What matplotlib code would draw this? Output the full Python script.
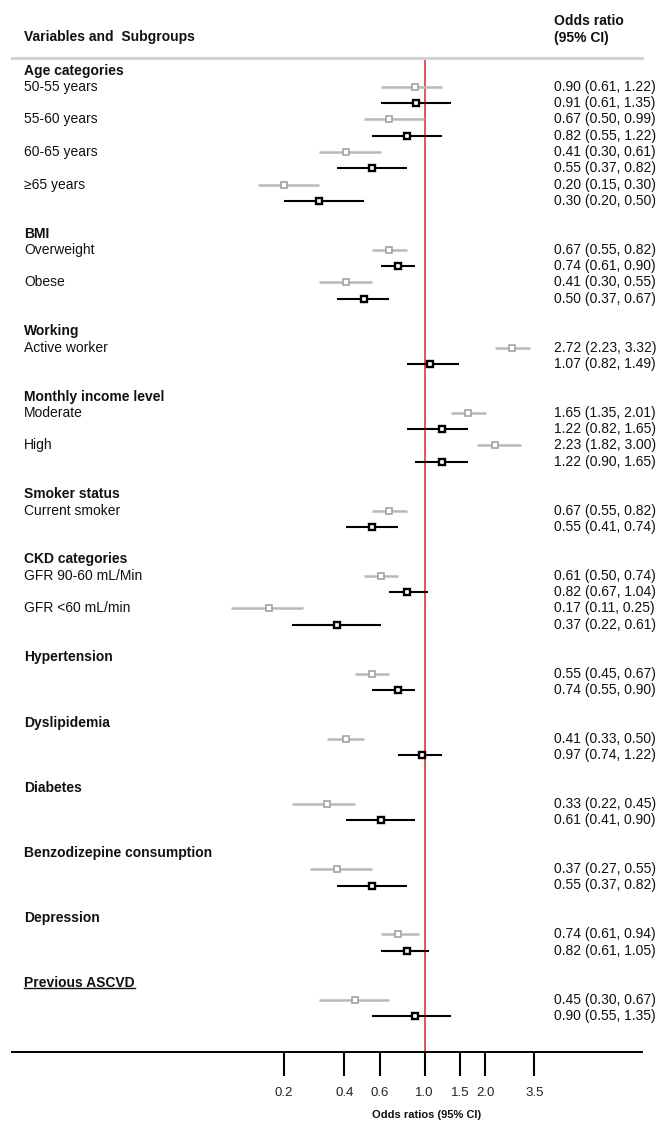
import matplotlib
matplotlib.use("Agg")
import matplotlib.pyplot as plt
from matplotlib import transforms
from matplotlib.lines import Line2D
import numpy as np

plt.rcParams['font.family'] = ['Liberation Sans', 'DejaVu Sans']

# ---- data -------------------------------------------------------------
groups = ["Age categories", "BMI", "Working", "Monthly income level",
          "Smoker status", "CKD categories", "Hypertension", "Dyslipidemia",
          "Diabetes", "Benzodizepine consumption", "Depression", "Previous ASCVD"]
subgroups = [["50-55 years", "55-60 years", "60-65 years", "\u226565 years"],
             ["Overweight", "Obese"],
             ["Active worker"],
             ["Moderate", "High"],
             ["Current smoker"],
             ["GFR 90-60 mL/Min", "GFR <60 mL/min"],
             [""], [""], [""], [""], [""], [""]]

# crude estimates (grey) and adjusted estimates (black)
crude_or = [0.90, 0.67, 0.41, 0.20, 0.67, 0.41, 2.72, 1.65, 2.23, 0.67,
            0.61, 0.17, 0.55, 0.41, 0.33, 0.37, 0.74, 0.45]
crude_lo = [0.61, 0.50, 0.30, 0.15, 0.55, 0.30, 2.23, 1.35, 1.82, 0.55,
            0.50, 0.11, 0.45, 0.33, 0.22, 0.27, 0.61, 0.30]
crude_hi = [1.22, 0.99, 0.61, 0.30, 0.82, 0.55, 3.32, 2.01, 3.00, 0.82,
            0.74, 0.25, 0.67, 0.50, 0.45, 0.55, 0.94, 0.67]
adj_or = [0.91, 0.82, 0.55, 0.30, 0.74, 0.50, 1.07, 1.22, 1.22, 0.55,
          0.82, 0.37, 0.74, 0.97, 0.61, 0.55, 0.82, 0.90]
adj_lo = [0.61, 0.55, 0.37, 0.20, 0.61, 0.37, 0.82, 0.82, 0.90, 0.41,
          0.67, 0.22, 0.55, 0.74, 0.41, 0.37, 0.61, 0.55]
adj_hi = [1.35, 1.22, 0.82, 0.50, 0.90, 0.67, 1.49, 1.65, 1.65, 0.74,
          1.04, 0.61, 0.90, 1.22, 0.90, 0.82, 1.05, 1.35]

tick_values = [0.2, 0.4, 0.6, 1.0, 1.5, 2.0, 3.5]
tick_labels = ["0.2", "0.4", "0.6", "1.0", "1.5", "2.0", "3.5"]

# ---- figure -------------------------------------------------------------
W, H = 659, 1122
fig = plt.figure(figsize=(W / 100, H / 100), dpi=100)

def fx(px):
    return px / W

def fy(py):
    return 1 - py / H

ax_l, ax_r, ax_t, ax_b = 12, 642, 58, 1052
ax = fig.add_axes([fx(ax_l), fy(ax_b), (ax_r - ax_l) / W, (ax_b - ax_t) / H])
ax.set_xscale('log')
k = 87.6          # pixels per natural-log unit
x_one = 424.5     # pixel column of OR = 1
ax.set_xlim(np.exp((ax_l - x_one) / k), np.exp((ax_r - x_one) / k))
row_h = 16.3
y0 = 70.5
ax.set_ylim((ax_b - y0) / row_h, (ax_t - y0) / row_h)

for s in ['left', 'right']:
    ax.spines[s].set_visible(False)
ax.spines['top'].set_color('#d2d2d2')
ax.spines['top'].set_linewidth(2.2)
ax.spines['bottom'].set_color('black')
ax.spines['bottom'].set_linewidth(1.4)
ax.set_yticks([])
ax.set_xticks(tick_values)
ax.set_xticklabels(tick_labels)
ax.xaxis.set_minor_locator(matplotlib.ticker.NullLocator())
ax.tick_params(axis='x', direction='out', length=17, width=1.5,
               pad=8, labelsize=9.5, color='black', labelcolor='#222222')

ax.axvline(1.0, color='#dd4a44', lw=1.3, zorder=1)

label_tr = transforms.blended_transform_factory(fig.transFigure, ax.transData)
text_kw = dict(fontsize=10, va='center', ha='left', color='#111111',
               transform=label_tr)

gray_line = '#b9b9b9'
gray_edge = '#a3a3a3'

u = 0
i = 0
heading_texts = {}
for g, subs in zip(groups, subgroups):
    t = ax.text(fx(24), u, g, fontweight='bold', **text_kw)
    heading_texts[g] = t
    for s in subs:
        yc, ya = u + 1, u + 2
        if s:
            ax.text(fx(24), yc, s, **text_kw)
        ax.plot([crude_lo[i], crude_hi[i]], [yc, yc], color=gray_line,
                lw=1.8, solid_capstyle='butt', zorder=2)
        ax.plot([crude_or[i]], [yc], marker='s', ms=4.2, mew=1.2,
                mfc='white', mec=gray_edge, zorder=3)
        ax.plot([adj_lo[i], adj_hi[i]], [ya, ya], color='black',
                lw=1.5, solid_capstyle='butt', zorder=2)
        ax.plot([adj_or[i]], [ya], marker='s', ms=5.0, mew=1.7,
                mfc='white', mec='black', zorder=3)
        ax.text(fx(554), yc,
                f"{crude_or[i]:.2f} ({crude_lo[i]:.2f}, {crude_hi[i]:.2f})",
                **text_kw)
        ax.text(fx(554), ya,
                f"{adj_or[i]:.2f} ({adj_lo[i]:.2f}, {adj_hi[i]:.2f})",
                **text_kw)
        i += 1
        u += 2
    u += 2

# column headers
fig.text(fx(24), fy(37), "Variables and  Subgroups", fontsize=10,
         fontweight='bold', va='center', ha='left', color='#111111')
fig.text(fx(554), fy(21), "Odds ratio", fontsize=10,
         fontweight='bold', va='center', ha='left', color='#111111')
fig.text(fx(554), fy(38), "(95% CI)", fontsize=10,
         fontweight='bold', va='center', ha='left', color='#111111')

# axis title under the reference line
fig.text(fx(427), fy(1115), "Odds ratios (95% CI)", fontsize=8,
         fontweight='bold', va='center', ha='center', color='#111111')

# underline the last heading
fig.canvas.draw()
renderer = fig.canvas.get_renderer()
bb = heading_texts["Previous ASCVD"].get_window_extent(renderer)
uy = bb.y0 + 2.5
fig.add_artist(Line2D([bb.x0 / W, bb.x1 / W], [uy / H, uy / H],
                      transform=fig.transFigure, color='#111111', lw=1.0))

fig.savefig("out.png", dpi=100)
